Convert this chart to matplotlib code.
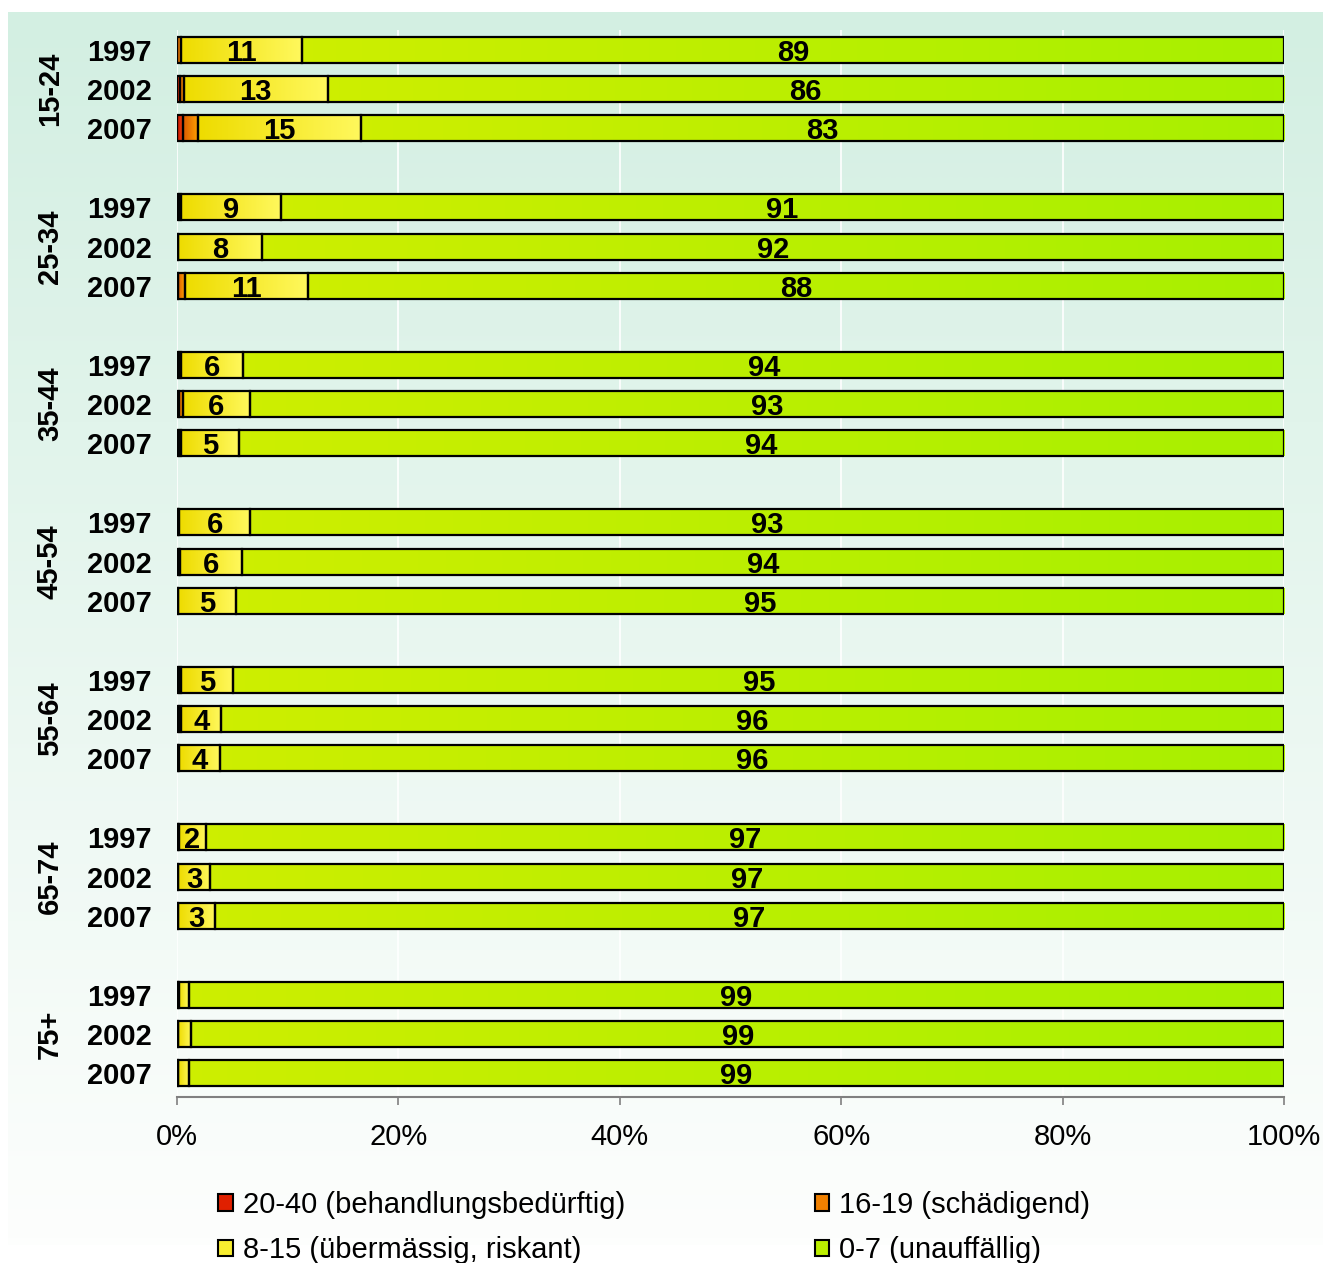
import numpy as np
import matplotlib
matplotlib.use("Agg")
import matplotlib.pyplot as plt
from matplotlib.colors import LinearSegmentedColormap
from matplotlib.patches import Patch

plt.rcParams['font.family'] = ['Liberation Sans', 'DejaVu Sans']

# ---------------- data ----------------
age_groups = ["15-24", "25-34", "35-44", "45-54", "55-64", "65-74", "75+"]
years = ["1997", "2002", "2007"]
series_names = ["20-40 (behandlungsbedürftig)", "16-19 (schädigend)",
                "8-15 (übermässig, riskant)", "0-7 (unauffällig)"]

# values in percent, rows ordered group by group, years 1997, 2002, 2007
s_20_40 = [0.0, 0.3, 0.5,   0.2, 0.1, 0.1,   0.2, 0.2, 0.2,   0.1, 0.2, 0.05,
           0.2, 0.2, 0.05,  0.1, 0.05, 0.05, 0.1, 0.05, 0.05]
s_16_19 = [0.4, 0.3, 1.4,   0.2, 0.0, 0.6,   0.2, 0.3, 0.2,   0.1, 0.1, 0.05,
           0.2, 0.2, 0.1,   0.1, 0.05, 0.05, 0.1, 0.05, 0.05]
s_8_15 = [10.9, 13.0, 14.7,  9.0, 7.6, 11.1,  5.6, 6.1, 5.2,  6.4, 5.6, 5.2,
          4.7, 3.6, 3.7,     2.4, 2.9, 3.3,   0.9, 1.2, 1.0]
s_0_7 = [88.7, 86.4, 83.4,  90.6, 92.3, 88.2,  94.0, 93.4, 94.4,  93.4, 94.1, 94.7,
         94.9, 96.0, 96.15, 97.4, 97.0, 96.6,  98.9, 98.7, 98.9]

series = [s_20_40, s_16_19, s_8_15, s_0_7]
grad_colors = [("#b80c00", "#ff4a10"),
               ("#dc5a00", "#ffa400"),
               ("#eedc00", "#fff85c"),
               ("#cdee00", "#a8f000")]
mid_colors = ["#e02000", "#f08000", "#f8ee30", "#bcef00"]
label_series = [False, False, True, True]

FS = 21

# ---------------- figure ----------------
W, H = 1323, 1263
fig = plt.figure(figsize=(W / 100, H / 100), dpi=100)

# background gradient panel
bg = fig.add_axes([8 / W, 18 / H, 1 - 8 / W, (H - 12 - 18) / H], zorder=-10)
bg_cmap = LinearSegmentedColormap.from_list("bg", ["#d3efe2", "#fdfefd"])
bg.imshow(np.linspace(0, 1, 256)[:, None], cmap=bg_cmap, aspect="auto",
          extent=(0, 1, 0, 1), interpolation="bilinear")
bg.set_axis_off()

ax = fig.add_axes([177 / W, 166 / H, (1284 - 177) / W, (1097 - 30) / H], zorder=1)
ax.patch.set_alpha(0)

positions = []
for g in range(len(age_groups)):
    for j in range(len(years)):
        positions.append(g * 4 + j)
positions = np.array(positions, dtype=float)

bar_h = 0.66
ax.grid(axis="x", color="white", lw=1.2, zorder=0)
ax.set_axisbelow(True)

left = np.zeros(len(positions))
for k, vals in enumerate(series):
    vals = np.array(vals)
    bars = ax.barh(positions, vals, left=left, height=bar_h, facecolor="none",
                   edgecolor="black", lw=1.6, zorder=4)
    cmap = LinearSegmentedColormap.from_list(f"c{k}", list(grad_colors[k]))
    for b, v in zip(bars, vals):
        x0, y0 = b.get_x(), b.get_y()
        w, h = b.get_width(), b.get_height()
        if w <= 0:
            continue
        ax.imshow(np.linspace(0, 1, 64)[None, :], cmap=cmap, aspect="auto",
                  extent=(x0, x0 + w, y0 + h, y0), interpolation="bilinear", zorder=3)
        if label_series[k] and v >= 1.5:
            ax.text(x0 + w / 2, y0 + h / 2, f"{round(v)}", ha="center",
                    va="center_baseline", fontsize=FS, fontweight="bold", zorder=5)
    left = left + vals

ax.set_xlim(0, 100)
ax.set_ylim(26.6, -0.5)
ax.set_xticks(np.arange(0, 101, 20))
ax.set_xticklabels([f"{t}%" for t in range(0, 101, 20)], fontsize=FS)
ax.tick_params(axis="x", direction="out", length=6, width=1.2, color="#808080", pad=13)
ax.set_yticks(positions)
ax.set_yticklabels(years * len(age_groups), fontsize=FS, fontweight="bold")
ax.tick_params(axis="y", length=0, pad=18)
for s in ["top", "right", "left"]:
    ax.spines[s].set_visible(False)
ax.spines["bottom"].set_color("#808080")
ax.spines["bottom"].set_linewidth(1.5)

trans = matplotlib.transforms.blended_transform_factory(ax.transAxes, ax.transData)
for g, name in enumerate(age_groups):
    ax.text((50 - 177) / 1107, g * 4 + 1, name, rotation=90, ha="center", va="center",
            fontsize=FS, fontweight="bold", transform=trans)

handles = [Patch(facecolor=mid_colors[i], edgecolor="black", lw=1.5) for i in [0, 2, 1, 3]]
labels = [series_names[i] for i in [0, 2, 1, 3]]
fig.legend(handles, labels, loc="upper left", bbox_to_anchor=(218 / W, 1 - 1191 / H),
           ncol=2, frameon=False, fontsize=FS, handlelength=0.5, handleheight=0.5,
           handletextpad=0.35, columnspacing=6.5, labelspacing=0.6,
           borderaxespad=0, borderpad=0)

fig.savefig("out.png", dpi=100)
